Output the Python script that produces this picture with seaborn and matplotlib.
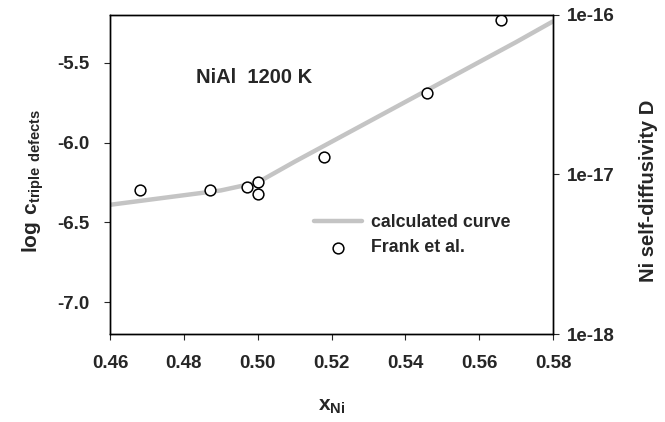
import numpy as np
import pandas as pd
import seaborn as sns
import matplotlib.pyplot as plt
from matplotlib.ticker import FixedLocator, NullLocator, FixedFormatter

# calculated curve
curve_x = [0.46, 0.47, 0.48, 0.49, 0.50, 0.51, 0.52, 0.53, 0.54, 0.55, 0.56, 0.57, 0.58]
curve_y = [-6.39, -6.36, -6.33, -6.30, -6.25, -6.12, -5.995, -5.87, -5.745, -5.62, -5.495, -5.37, -5.24]

# Frank et al. measurements
frank_x = [0.468, 0.487, 0.497, 0.500, 0.500, 0.518, 0.546, 0.566]
frank_y = [-6.30, -6.30, -6.28, -6.25, -6.32, -6.09, -5.69, -5.23]

xticks = [0.46, 0.48, 0.50, 0.52, 0.54, 0.56, 0.58]
yticks = [-7.0, -6.5, -6.0, -5.5]
d_ticks = [1e-18, 1e-17, 1e-16]
d_labels = ["1e-18", "1e-17", "1e-16"]

curve = pd.DataFrame({"x": curve_x, "y": curve_y})
frank = pd.DataFrame({"x": frank_x, "y": frank_y})

sns.set_theme(style="ticks")
plt.rcParams['font.family'] = ['Liberation Sans', 'DejaVu Sans']
plt.rcParams['font.weight'] = 'bold'
plt.rcParams['mathtext.fontset'] = 'custom'
plt.rcParams['mathtext.rm'] = 'Liberation Sans:bold'
plt.rcParams['mathtext.bf'] = 'Liberation Sans:bold'

fig = plt.figure(figsize=(6.65, 4.22), dpi=100)
ax = fig.add_axes([0.1654, 0.2085, 0.6662, 0.756])

sns.lineplot(data=curve, x="x", y="y", ax=ax, color="#c4c4c4", linewidth=3.2,
             label="calculated curve")
sns.scatterplot(data=frank, x="x", y="y", ax=ax, marker="o", s=60,
                facecolor="white", edgecolor="black", linewidth=1.1,
                label="Frank et al.", zorder=3)

ax.set_xlim(0.46, 0.58)
ax.set_ylim(-7.2, -5.2)
ax.set_xticks(xticks)
ax.set_xticklabels([f"{t:.2f}" for t in xticks])
ax.set_yticks(yticks)
ax.set_yticklabels([f"{t:.1f}" for t in yticks])
ax.tick_params(labelsize=13.5, length=4, width=0.8, pad=11)
for s in ax.spines.values():
    s.set_linewidth(1.0)
    s.set_color("black")

ax.set_xlabel(r"$\mathrm{x}_{\mathrm{Ni}}$", fontsize=15, labelpad=18)
ax.set_ylabel(r"$\mathrm{log\ c}_{\mathrm{triple\ defects}}$", fontsize=15, labelpad=10)
ax.yaxis.set_label_coords(-0.145, 0.48)

ax.text(0.4833, -5.59, "NiAl  1200 K", fontsize=14.5, fontweight="bold", va="center")

ax.legend(loc="upper left", bbox_to_anchor=(0.425, 0.425), frameon=False,
          fontsize=12.8, handlelength=2.7, labelspacing=0.45, handletextpad=0.5)

ax2 = ax.twinx()
ax2.set_yscale("log")
ax2.set_ylim(1e-18, 1e-16)
ax2.yaxis.set_major_locator(FixedLocator(d_ticks))
ax2.yaxis.set_major_formatter(FixedFormatter(d_labels))
ax2.yaxis.set_minor_locator(NullLocator())
ax2.tick_params(labelsize=13.5, length=4, width=0.8, pad=6)
ax2.set_ylabel("Ni self-diffusivity D", fontsize=14.5, fontweight="bold", labelpad=14)
ax2.yaxis.set_label_coords(1.195, 0.45)
for s in ax2.spines.values():
    s.set_linewidth(1.0)
    s.set_color("black")

fig.savefig("out.png", dpi=100)
